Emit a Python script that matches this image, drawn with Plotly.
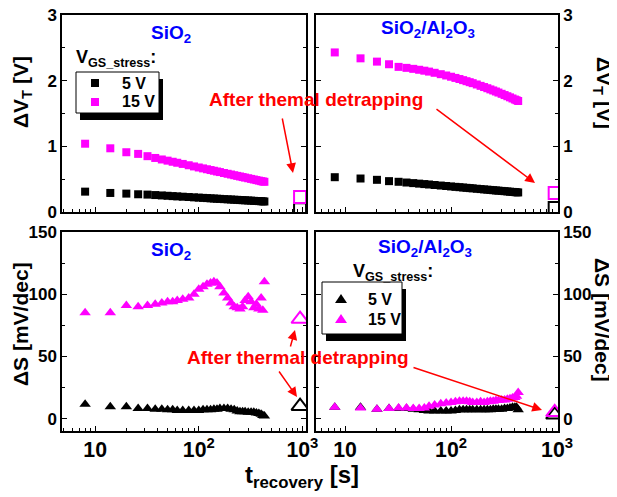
import plotly.graph_objects as go

# The page body has an 8 px default margin, so the figure is drawn 8 px in from
# the window's top-left corner; positions below are given in window pixels.
OFF = 8
W, H = 617 - OFF, 497 - OFF
FONT = "Liberation Sans, Arial, sans-serif"

# ---------------- data ----------------
t = [8, 14, 20, 26, 32, 38, 44, 50, 56, 62, 70, 80, 90, 100, 110, 120, 130, 140,
     150, 160, 175, 190, 205, 220, 235, 250, 265, 280, 300, 320, 340, 360, 380,
     400, 415, 430]

dvt_sio2_5 = [0.31, 0.29, 0.28, 0.27, 0.265, 0.258, 0.252, 0.247, 0.242, 0.238,
              0.233, 0.228, 0.223, 0.219, 0.215, 0.212, 0.208, 0.205, 0.202, 0.200,
              0.196, 0.193, 0.190, 0.187, 0.185, 0.182, 0.180, 0.178, 0.175, 0.173,
              0.170, 0.168, 0.166, 0.164, 0.162, 0.160]
dvt_sio2_15 = [1.04, 0.97, 0.91, 0.885, 0.85, 0.823, 0.80, 0.782, 0.765, 0.75,
               0.732, 0.712, 0.694, 0.678, 0.664, 0.651, 0.639, 0.628, 0.617, 0.608,
               0.594, 0.582, 0.571, 0.56, 0.55, 0.541, 0.532, 0.524, 0.514, 0.504,
               0.495, 0.486, 0.478, 0.47, 0.465, 0.46]
dvt_al_5 = [0.53, 0.51, 0.49, 0.47, 0.46, 0.449, 0.44, 0.432, 0.425, 0.419,
            0.411, 0.403, 0.396, 0.389, 0.383, 0.378, 0.373, 0.368, 0.364, 0.36,
            0.354, 0.349, 0.344, 0.34, 0.336, 0.332, 0.328, 0.325, 0.321, 0.317,
            0.313, 0.309, 0.306, 0.303, 0.30, 0.298]
dvt_al_15 = [2.43, 2.34, 2.29, 2.25, 2.21, 2.195, 2.18, 2.166, 2.152, 2.138,
             2.12, 2.099, 2.079, 2.06, 2.042, 2.025, 2.008, 1.992, 1.977, 1.962,
             1.942, 1.921, 1.903, 1.885, 1.867, 1.851, 1.835, 1.819, 1.80, 1.781,
             1.763, 1.746, 1.729, 1.713, 1.702, 1.69]

ds_sio2_5 = [11.5, 9.5, 9.5, 8, 8, 7.5, 7.5, 7, 7, 6.5, 6.5, 6.5, 6.5, 6.5,
             7, 7, 7, 7.5, 7.5, 8, 8, 8, 7.5, 7, 6, 5.5, 5.5, 5.5, 5, 5, 5, 4.5,
             4, 3.5, 2.5, 2]
ds_sio2_15 = [85, 85, 91, 90, 91, 92, 93, 94, 94, 95, 96, 97, 100, 104, 106, 108,
              109, 110, 109, 106, 101, 97, 93, 90, 89, 88, 90, 95, 98, 94, 89, 92,
              88, 97, 87, 110]
ds_al_5 = [9, 9, 7.5, 8, 8, 8, 7.5, 7, 6.5, 6, 6, 6, 6, 6, 6.5, 7, 7, 7, 7, 7,
           7, 7, 7, 7, 7, 7.5, 7.5, 7.5, 7.5, 8, 8, 8.5, 9, 9, 9, 7]
ds_al_15 = [9, 8.5, 7.5, 8, 8.5, 8.5, 8, 8, 8.5, 10, 11, 12, 12.5, 13, 13.5, 14,
            14, 14, 13.5, 13, 13, 13.5, 13, 13.5, 14, 14, 14.5, 14.5, 15, 15, 15.5,
            16, 16.5, 17, 18, 21]

t_detrap = [950]
dvt_sio2_detrap_5 = [0.04]
dvt_sio2_detrap_15 = [0.23]
dvt_al_detrap_5 = [0.06]
dvt_al_detrap_15 = [0.29]
ds_sio2_detrap_5 = [10]
ds_sio2_detrap_15 = [80]
ds_al_detrap_5 = [3]
ds_al_detrap_15 = [5]

series_labels = ["5 V", "15 V"]
BLACK, MAGENTA = "black", "#ff00ff"


def px_x(x):
    return (x - OFF) / W


def px_y(y):
    return 1 - (y - OFF) / H


fig = go.Figure()

panels = [
    ("x", "y", dvt_sio2_5, dvt_sio2_15, dvt_sio2_detrap_5, dvt_sio2_detrap_15, "square"),
    ("x2", "y2", dvt_al_5, dvt_al_15, dvt_al_detrap_5, dvt_al_detrap_15, "square"),
    ("x3", "y3", ds_sio2_5, ds_sio2_15, ds_sio2_detrap_5, ds_sio2_detrap_15, "triangle-up"),
    ("x4", "y4", ds_al_5, ds_al_15, ds_al_detrap_5, ds_al_detrap_15, "triangle-up"),
]

for xa, ya, y5, y15, d5, d15, sym in panels:
    sq = sym == "square"
    msize = 8 if sq else 10
    osize = 12 if sq else 15
    for yy, col, lab in ((y5, BLACK, series_labels[0]), (y15, MAGENTA, series_labels[1])):
        fig.add_trace(go.Scatter(
            x=t, y=yy, mode="markers", xaxis=xa, yaxis=ya, name=lab, showlegend=False,
            marker=dict(symbol=sym, size=msize, color=col, line=dict(width=0))))
    for yy, col in ((d5, BLACK), (d15, MAGENTA)):
        fig.add_trace(go.Scatter(
            x=t_detrap, y=yy, mode="markers", xaxis=xa, yaxis=ya, showlegend=False,
            marker=dict(symbol=sym + "-open", size=osize, color=col,
                        line=dict(width=2, color=col))))

# ---------------- axes ----------------
tickfont = dict(family=FONT, size=17, color="black", weight="bold")
LEFT_X = [62, 306]
RIGHT_X = [316, 558]
TOP_Y = [15, 212]
BOT_Y = [232, 431]


def xaxis(dom, rng, labels, anchor):
    return dict(type="log", domain=[px_x(dom[0]), px_x(dom[1])], range=rng, anchor=anchor,
                automargin=False, ticklabeloverflow="allow",
                showgrid=False, zeroline=False, showline=True, linecolor="black",
                linewidth=1.5, mirror=True, ticks="inside", ticklen=5, tickwidth=1.2,
                tickcolor="black", dtick=1, exponentformat="power",
                showticklabels=labels, tickfont=tickfont,
                minor=dict(ticks="inside", ticklen=3, tickwidth=1, tickcolor="black",
                           dtick="D1", showgrid=False))


def yaxis(dom, rng, dt, mdt, side, anchor):
    return dict(domain=[px_y(dom[1]), px_y(dom[0])], range=rng, anchor=anchor,
                automargin=False, ticklabeloverflow="allow",
                side=side, showgrid=False, zeroline=False, showline=True,
                linecolor="black", linewidth=1.5, mirror="allticks", ticks="inside",
                ticklen=5, tickwidth=1.2, tickcolor="black", tick0=0, dtick=dt,
                tickfont=tickfont,
                minor=dict(ticks="inside", ticklen=3, tickwidth=1, tickcolor="black",
                           dtick=mdt, tick0=0, showgrid=False))


fig.update_layout(
    xaxis=xaxis(LEFT_X, [0.68, 3.035], False, "y"),
    xaxis2=xaxis(RIGHT_X, [0.726, 3.009], False, "y2"),
    xaxis3=xaxis(LEFT_X, [0.68, 3.035], True, "y3"),
    xaxis4=xaxis(RIGHT_X, [0.726, 3.009], True, "y4"),
    yaxis=yaxis(TOP_Y, [0, 3], 1, 0.5, "left", "x"),
    yaxis2=yaxis(TOP_Y, [0, 3], 1, 0.5, "right", "x2"),
    yaxis3=yaxis(BOT_Y, [-10, 150], 50, 25, "left", "x3"),
    yaxis4=yaxis(BOT_Y, [-10, 150], 50, 25, "right", "x4"),
)

# ---------------- legend boxes (with shadow) ----------------
shapes = []
ann = []


def text(x, y, s, size, color="black", angle=0, xanchor="center"):
    ann.append(dict(x=px_x(x), y=px_y(y), xref="paper", yref="paper", text=s,
                    showarrow=False, textangle=angle, xanchor=xanchor, yanchor="middle",
                    font=dict(family=FONT, size=size, color=color, weight="bold")))


def legend_box(x0, y0, x1, y1, rows, sym):
    shapes.append(dict(type="rect", xref="paper", yref="paper", layer="above",
                       x0=px_x(x0 + 4), x1=px_x(x1 + 4), y0=px_y(y1 + 7), y1=px_y(y0 + 7),
                       fillcolor="black", line=dict(width=0)))
    shapes.append(dict(type="rect", xref="paper", yref="paper", layer="above",
                       x0=px_x(x0), x1=px_x(x1), y0=px_y(y1), y1=px_y(y0),
                       fillcolor="white", line=dict(color="black", width=1)))
    for (ry, col, lab) in rows:
        mx = x0 + 19
        if sym == "square":
            shapes.append(dict(type="rect", xref="paper", yref="paper", layer="above",
                               x0=px_x(mx - 4), x1=px_x(mx + 4), y0=px_y(ry + 4),
                               y1=px_y(ry - 4), fillcolor=col, line=dict(width=0)))
        else:
            path = "M {} {} L {} {} L {} {} Z".format(
                px_x(mx - 6), px_y(ry + 4), px_x(mx + 6), px_y(ry + 4), px_x(mx), px_y(ry - 5))
            shapes.append(dict(type="path", xref="paper", yref="paper", layer="above",
                               path=path, fillcolor=col, line=dict(width=0)))
        text(x0 + 44, ry, lab, 16, xanchor="left")


legend_box(76, 72, 159, 113, [(83, BLACK, series_labels[0]), (102, MAGENTA, series_labels[1])],
           "square")
legend_box(322, 282, 402, 334, [(299, BLACK, series_labels[0]), (319, MAGENTA, series_labels[1])],
           "triangle")
fig.update_layout(shapes=shapes)

# ---------------- annotations ----------------
text(22, 92, "ΔV<sub>T</sub> [V]", 21, angle=-90)
text(603, 93, "ΔV<sub>T</sub> [V]", 21, angle=90)
text(20, 324, "ΔS [mV/dec]", 21, angle=-90)
text(603, 320, "ΔS [mV/dec]", 21, angle=90)
text(302, 476, "t<sub>recovery</sub> [s]", 24)

BLUE = "#0000ff"
text(171, 34, "SiO<sub>2</sub>", 19, BLUE)
text(428, 29, "SiO<sub>2</sub>/Al<sub>2</sub>O<sub>3</sub>", 19, BLUE)
text(171, 251, "SiO<sub>2</sub>", 19, BLUE)
text(425, 248, "SiO<sub>2</sub>/Al<sub>2</sub>O<sub>3</sub>", 19, BLUE)

text(74, 59, "V<sub>GS_stress</sub>:", 18, xanchor="left")
text(351, 272, "V<sub>GS_stress</sub>:", 18, xanchor="left")

RED = "#ff0000"
text(316, 100, "After themal detrapping", 19, RED)
text(298, 357, "After thermal detrapping", 19, RED)

for (tx, ty, hx, hy) in [(282, 117, 293, 173), (435, 108, 535, 183),
                         (278, 370, 297, 397), (290, 348, 295, 330),
                         (412, 367, 542, 410)]:
    ann.append(dict(x=px_x(hx), y=px_y(hy), xref="paper", yref="paper", text="",
                    showarrow=True, ax=tx - hx, ay=ty - hy, axref="pixel", ayref="pixel",
                    arrowcolor=RED, arrowwidth=1.5, arrowhead=2, arrowsize=1.3))

fig.update_layout(annotations=ann)

fig.update_layout(width=W, height=H, autosize=False,
                  margin=dict(l=0, r=0, t=0, b=0, autoexpand=False),
                  paper_bgcolor="white", plot_bgcolor="white",
                  font=dict(family=FONT, color="black"))

fig.write_html("out.html")
